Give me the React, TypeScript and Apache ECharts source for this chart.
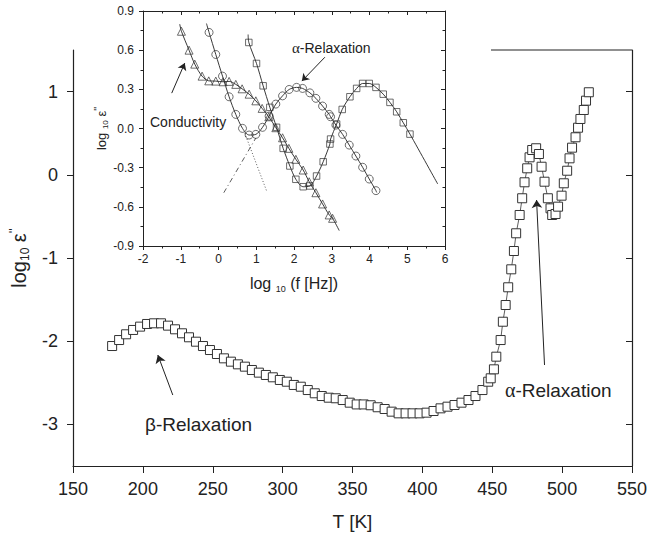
import React, { useEffect, useRef } from 'react';
import * as echarts from 'echarts';

// ---------- main plot data: log10 eps'' vs T ----------
const mainT = [
  178, 183, 188, 193, 198, 203, 208, 213, 218, 223, 228, 233, 238, 243, 248, 253, 258, 263, 268, 273,
  278, 283, 288, 293, 298, 303, 308, 313, 318, 323, 328, 333, 338, 343, 348, 353, 358, 363, 368, 373,
  378, 383, 388, 393, 398, 403, 408, 413, 418, 423, 428, 433, 438, 443, 447.1, 448.9, 451.2, 452.9, 456, 457.6,
  459.6, 461.4, 463.6, 465.5, 467.1, 469.6, 471.4, 473.1, 475, 476.7, 478.6, 481.4, 483.4, 485.3, 487.4, 489.8,
  491.7, 492.9, 495.3, 497.1, 499.6, 501.2, 503.6, 505.3, 507.1, 509.6, 511.4, 513.1, 515.5, 517.1, 519.1,
];
const mainLogE = [
  -2.058, -1.986, -1.917, -1.865, -1.825, -1.793, -1.785, -1.785, -1.813, -1.857, -1.905, -1.953, -2.006, -2.058,
  -2.106, -2.154, -2.206, -2.246, -2.278, -2.306, -2.346, -2.378, -2.406, -2.434, -2.466, -2.487, -2.526,
  -2.547, -2.587, -2.626, -2.659, -2.679, -2.686, -2.707, -2.739, -2.76, -2.76, -2.77, -2.794, -2.815, -2.847,
  -2.867, -2.867, -2.867, -2.867, -2.859, -2.839,
  -2.807, -2.787, -2.767, -2.739, -2.707, -2.659, -2.587, -2.487, -2.446, -2.338, -2.186, -1.986, -1.766, -1.565,
  -1.352, -1.136, -0.916, -0.703, -0.483, -0.282, -0.09, 0.078, 0.21, 0.298, 0.319, 0.25, 0.097, -0.083, -0.282,
  -0.403, -0.483, -0.471, -0.383, -0.251, -0.102, 0.049, 0.198, 0.326, 0.451, 0.566, 0.671, 0.779, 0.891, 0.992,
];
const mainYTicks = [-3, -2, -1, 0, 1];

// ---------- inset data: log10 eps'' vs log10 f ----------
const triX = [-0.982, -0.78, -0.629, -0.435, -0.258, -0.072, 0.121, 0.281, 0.458, 0.625, 0.811, 0.989, 1.156, 1.333, 1.519, 1.697, 1.864, 2.049, 2.243, 2.402, 2.58, 2.757, 2.932, 3.022];
const triY = [0.745, 0.6, 0.493, 0.401, 0.365, 0.363, 0.358, 0.361, 0.338, 0.304, 0.263, 0.212, 0.154, 0.09, 0.006, -0.071, -0.152, -0.236, -0.318, -0.408, -0.492, -0.578, -0.662, -0.688];
const triFitStart = [-1.027, 0.799];
const triFitEnd = [3.198, -0.782];

const circX = [-0.25, -0.072, 0.106, 0.281, 0.458, 0.636, 0.811, 0.989, 1.166, 1.341, 1.519, 1.697, 1.872, 2.068, 2.227, 2.421, 2.58, 2.757, 2.932, 2.969, 3.11, 3.288, 3.463, 3.64, 3.818, 3.993, 4.171];
const circY = [0.736, 0.567, 0.401, 0.243, 0.108, 0.001, -0.05, -0.045, 0.009, 0.095, 0.187, 0.25, 0.299, 0.315, 0.307, 0.273, 0.231, 0.172, 0.108, 0.09, 0.026, -0.045, -0.127, -0.211, -0.297, -0.387, -0.476];
const circFitStart = [-0.319, 0.804];
const circFitEnd = [4.19, -0.49];

const sqX = [0.803, 1.007, 1.182, 1.36, 1.538, 1.713, 1.89, 2.049, 2.243, 2.421, 2.598, 2.773, 2.951, 2.969, 3.129, 3.277, 3.481, 3.659, 3.818, 3.993, 4.171, 4.364, 4.542, 4.72, 4.895, 5.072];
const sqY = [0.659, 0.498, 0.327, 0.162, 0.009, -0.152, -0.287, -0.389, -0.446, -0.44, -0.364, -0.255, -0.119, -0.081, 0.034, 0.146, 0.243, 0.307, 0.345, 0.345, 0.315, 0.263, 0.2, 0.128, 0.044, -0.043];
const sqFitStart = [0.785, 0.72];
const sqFitEnd = [5.807, -0.425];

const alphaTail = [[0.14, -0.492], [0.989, -0.073]];
const condTail = [[0.697, -0.037], [1.272, -0.476]];

// annotation arrows [tail, head]
const mainArrows = [
  [[221.4, -2.647], [210.7, -2.166]],
  [[487.4, -2.286], [481.7, -0.303]],
];
const insetArrows = [
  [[2.818, 0.546], [2.208, 0.363]],
  [[-1.239, 0.271], [-0.894, 0.501]],
];

const FONT = "'Liberation Sans', Arial, Helvetica, sans-serif";
const SERIF = "'Liberation Serif', 'DejaVu Serif', serif";
const TXT = '#222';
const AX = '#222';

const zip = (xs: number[], ys: number[]) => xs.map((x, i) => [x, ys[i]]);

function buildOption(): any {
  const mainData = zip(mainT, mainLogE);
  const tri = zip(triX, triY);
  const circ = zip(circX, circY);
  const sq = zip(sqX, sqY);

  const axisLine = { show: true, onZero: false, lineStyle: { color: AX, width: 1.2 } };
  const insetLine = { show: true, onZero: false, lineStyle: { color: AX, width: 1 } };
  const tickStyle = { color: AX, width: 1 };

  const arrowML = (arrs: number[][][], size: number) => ({
    silent: true,
    symbol: ['none', 'arrow'],
    symbolSize: size,
    label: { show: false },
    emphasis: { disabled: true },
    lineStyle: { color: '#222', width: 1, type: 'solid' },
    data: arrs.map((a) => [{ coord: a[0] }, { coord: a[1] }]),
  });

  const fitSeries = (data: number[][]) => ({
    type: 'line',
    xAxisIndex: 1,
    yAxisIndex: 2,
    data,
    smooth: 0.3,
    showSymbol: false,
    symbol: 'none',
    silent: true,
    lineStyle: { color: '#222', width: 0.9 },
    z: 3,
  });
  const markerSeries = (data: number[][], symbol: string, size: number, extra: any = {}) => ({
    type: 'scatter',
    xAxisIndex: 1,
    yAxisIndex: 2,
    data,
    symbol,
    symbolSize: size,
    silent: true,
    itemStyle: { color: 'rgba(0,0,0,0)', borderColor: '#333', borderWidth: 0.9 },
    z: 4,
    ...extra,
  });

  return {
    animation: false,
    backgroundColor: '#fff',
    textStyle: { fontFamily: FONT },
    grid: [
      { left: 73, right: 16, top: 50, bottom: 71, containLabel: false, outerBoundsMode: 'none' },
      { left: 143, right: 203, top: 11, bottom: 291, containLabel: false, outerBoundsMode: 'none' },
    ],
    xAxis: [
      {
        gridIndex: 0,
        type: 'value',
        min: 150,
        max: 550,
        interval: 50,
        position: 'bottom',
        axisLine,
        axisTick: { show: true, length: 7, lineStyle: tickStyle },
        axisLabel: { fontSize: 18, color: TXT, margin: 14, fontFamily: FONT },
        splitLine: { show: false },
        name: 'T [K]',
        nameLocation: 'middle',
        nameGap: 46,
        nameTextStyle: { fontSize: 19, color: TXT, fontFamily: FONT },
      },
      {
        gridIndex: 1,
        type: 'value',
        min: -2,
        max: 6,
        interval: 1,
        position: 'bottom',
        axisLine: insetLine,
        axisTick: { show: true, length: 4, lineStyle: tickStyle },
        minorTick: { show: true, splitNumber: 2, length: 2.5, lineStyle: tickStyle },
        axisLabel: { fontSize: 12, color: TXT, margin: 7, fontFamily: FONT },
        splitLine: { show: false },
        name: '{a|log }{b|10}{a| (f [Hz])}',
        nameLocation: 'middle',
        nameGap: 27,
        nameTextStyle: {
          color: TXT,
          fontFamily: FONT,
          rich: {
            a: { fontSize: 16, lineHeight: 20, color: TXT, fontFamily: FONT },
            b: { fontSize: 9, lineHeight: 8, verticalAlign: 'bottom', color: TXT, fontFamily: FONT },
          },
        },
      },
      {
        gridIndex: 1,
        type: 'value',
        min: -2,
        max: 6,
        interval: 1,
        position: 'top',
        axisLine: insetLine,
        axisTick: { show: true, inside: true, length: 4, lineStyle: tickStyle },
        minorTick: { show: true, splitNumber: 2, length: 2.5, lineStyle: tickStyle },
        axisLabel: { show: false },
        splitLine: { show: false },
      },
    ],
    yAxis: [
      {
        gridIndex: 0,
        type: 'value',
        min: -3.5,
        max: 1.5,
        position: 'left',
        axisLine,
        axisTick: { show: true, length: 6, lineStyle: tickStyle, customValues: mainYTicks },
        axisLabel: { fontSize: 18, color: TXT, margin: 15, fontFamily: FONT, customValues: mainYTicks },
        splitLine: { show: false },
        name: "{a|log}{b|10}{a| ε}{c|''}",
        nameLocation: 'middle',
        nameGap: 35,
        nameTextStyle: {
          color: TXT,
          fontFamily: FONT,
          rich: {
            a: { fontSize: 20, lineHeight: 24, color: TXT, fontFamily: FONT },
            b: { fontSize: 12, lineHeight: 10, verticalAlign: 'bottom', color: TXT, fontFamily: FONT },
            c: { fontSize: 13, lineHeight: 10, verticalAlign: 'top', color: TXT, fontFamily: FONT },
          },
        },
      },
      {
        gridIndex: 0,
        type: 'value',
        min: -3.5,
        max: 1.5,
        position: 'right',
        axisLine,
        axisTick: { show: true, inside: true, length: 6, lineStyle: tickStyle, customValues: mainYTicks },
        axisLabel: { show: false },
        splitLine: { show: false },
      },
      {
        gridIndex: 1,
        type: 'value',
        min: -0.9,
        max: 0.9,
        interval: 0.3,
        position: 'left',
        axisLine: insetLine,
        axisTick: { show: true, length: 4, lineStyle: tickStyle },
        minorTick: { show: true, splitNumber: 2, length: 2.5, lineStyle: tickStyle },
        axisLabel: {
          fontSize: 12,
          color: TXT,
          margin: 9,
          fontFamily: FONT,
          formatter: (v: number) => (Math.abs(v) < 1e-9 ? '0.0' : v.toFixed(1)),
        },
        splitLine: { show: false },
        name: "{a|log }{b|10}{a| ε}{c|''}",
        nameLocation: 'middle',
        nameGap: 34,
        nameTextStyle: {
          color: TXT,
          fontFamily: FONT,
          rich: {
            a: { fontSize: 13, lineHeight: 16, color: TXT, fontFamily: FONT },
            b: { fontSize: 8, lineHeight: 6, verticalAlign: 'bottom', color: TXT, fontFamily: FONT },
            c: { fontSize: 10, lineHeight: 7, verticalAlign: 'top', color: TXT, fontFamily: FONT },
          },
        },
      },
      {
        gridIndex: 1,
        type: 'value',
        min: -0.9,
        max: 0.9,
        interval: 0.3,
        position: 'right',
        axisLine: insetLine,
        axisTick: { show: true, inside: true, length: 4, lineStyle: tickStyle },
        minorTick: { show: true, splitNumber: 2, length: 2.5, lineStyle: tickStyle },
        axisLabel: { show: false },
        splitLine: { show: false },
      },
    ],
    series: [
      {
        type: 'line',
        xAxisIndex: 0,
        yAxisIndex: 0,
        data: mainData,
        symbol: 'rect',
        symbolSize: 9,
        showAllSymbol: true,
        silent: true,
        itemStyle: { color: '#fff', borderColor: '#333', borderWidth: 1 },
        lineStyle: { color: '#333', width: 0.8 },
        z: 3,
        markLine: arrowML(mainArrows, 8),
      },
      fitSeries([triFitStart, ...tri, triFitEnd]),
      fitSeries([circFitStart, ...circ, circFitEnd]),
      fitSeries([sqFitStart, ...sq, sqFitEnd]),
      {
        type: 'line',
        xAxisIndex: 1,
        yAxisIndex: 2,
        data: alphaTail,
        showSymbol: false,
        symbol: 'none',
        silent: true,
        lineStyle: { color: '#333', width: 0.8, type: [5, 3, 1, 3] },
      },
      {
        type: 'line',
        xAxisIndex: 1,
        yAxisIndex: 2,
        data: condTail,
        showSymbol: false,
        symbol: 'none',
        silent: true,
        lineStyle: { color: '#333', width: 0.8, type: [1, 2] },
      },
      markerSeries(tri, 'triangle', 8, { markLine: arrowML(insetArrows, 7) }),
      markerSeries(circ, 'circle', 8),
      markerSeries(sq, 'rect', 6.5),
    ],
    graphic: [
      {
        type: 'line',
        silent: true,
        shape: { x1: 491, y1: 50, x2: 632, y2: 50 },
        style: { stroke: AX, lineWidth: 1.2 },
      },
      {
        type: 'text',
        x: 145,
        y: 424,
        silent: true,
        style: { text: 'β-Relaxation', fontSize: 19, fontFamily: FONT, fill: TXT, verticalAlign: 'middle' },
      },
      {
        type: 'text',
        x: 505,
        y: 390,
        silent: true,
        style: {
          text: '{g|α}-Relaxation',
          fontSize: 19,
          fontFamily: FONT,
          fill: TXT,
          verticalAlign: 'middle',
          rich: { g: { fontFamily: SERIF, fontSize: 20, fill: TXT } },
        },
      },
      {
        type: 'text',
        x: 292,
        y: 48,
        silent: true,
        style: {
          text: '{g|α}-Relaxation',
          fontSize: 14,
          fontFamily: FONT,
          fill: TXT,
          verticalAlign: 'middle',
          rich: { g: { fontFamily: SERIF, fontSize: 15, fill: TXT } },
        },
      },
      {
        type: 'text',
        x: 150,
        y: 122,
        silent: true,
        style: { text: 'Conductivity', fontSize: 14, fontFamily: FONT, fill: TXT, verticalAlign: 'middle' },
      },
    ],
  };
}

export default function App() {
  const ref = useRef<HTMLDivElement>(null);
  useEffect(() => {
    if (!ref.current) return;
    const chart = echarts.init(ref.current, null, { renderer: 'svg' });
    chart.setOption(buildOption());
    return () => chart.dispose();
  }, []);
  return (
    <div
      ref={ref}
      style={{ position: 'fixed', left: 0, top: 0, width: 648, height: 537, background: '#fff' }}
    />
  );
}
